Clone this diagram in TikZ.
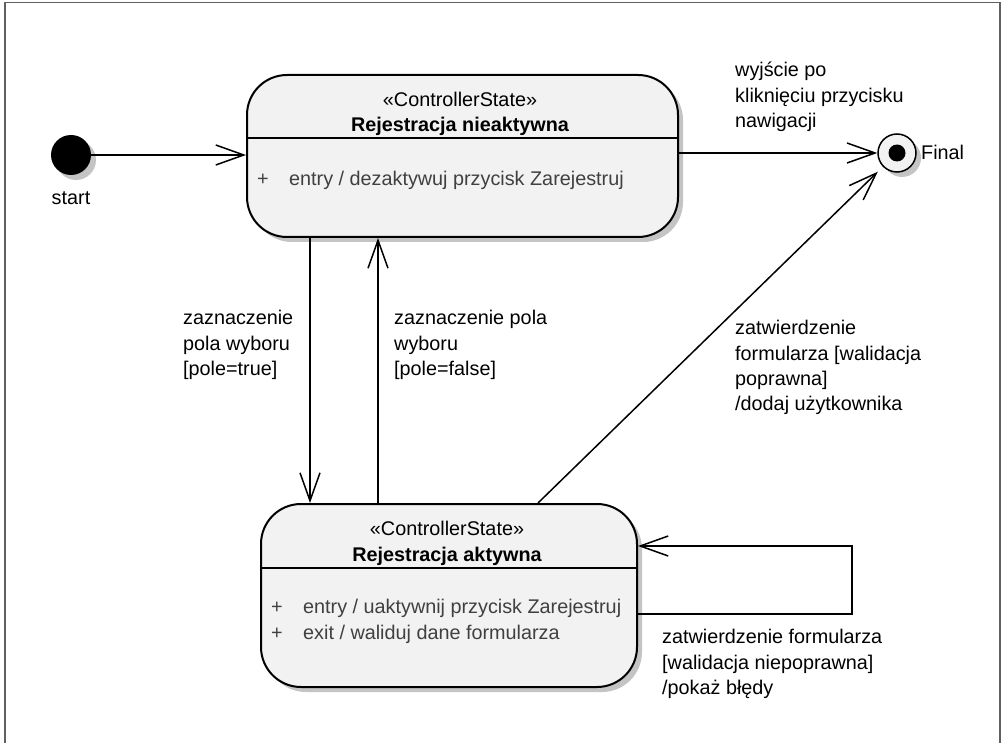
\documentclass[tikz,border=0pt]{standalone}
\usepackage{fontspec}
\setmainfont{Liberation Sans}
\usetikzlibrary{arrows.meta,shadows}
\definecolor{boxfill}{HTML}{F2F2F2}
\definecolor{shadowgray}{HTML}{C4C4C4}
\definecolor{entrygray}{HTML}{404040}
\definecolor{framegray}{HTML}{606060}
\begin{document}
\begin{tikzpicture}[x=1pt,y=-1pt,
  txt/.style={font=\fontsize{19.8}{25.3}\selectfont, inner sep=0pt},
  lbl/.style={txt, anchor=north west, align=left},
  entrytxt/.style={txt, anchor=base west, text=entrygray},
  shad/.style={drop shadow={shadow xshift=5pt,shadow yshift=-5pt,fill=shadowgray,opacity=1}},
  statebox/.style={rectangle, rounded corners=40pt, draw=black, line width=2pt, fill=boxfill, shad, inner sep=0pt},
  conn/.style={draw=black, line width=1.5pt, -{Straight Barb[length=28pt,width=20pt]}},
]
\useasboundingbox (0,0) rectangle (1006,743);
\fill[white] (0,0) rectangle (1006,743);
\draw[framegray, line width=1.2pt] (5,743) -- (5,2.5) -- (1000,2.5) -- (1000,743);

% states
\node[statebox, minimum width=431pt, minimum height=162pt] (top) at (462.5,156) {};
\node[statebox, minimum width=376pt, minimum height=183pt] (bot) at (449,595.5) {};
\coordinate (sepT) at (0,138);
\coordinate (sepB) at (0,568);
\draw[line width=2pt] (top.west |- sepT) -- (top.east |- sepT);
\draw[line width=2pt] (bot.west |- sepB) -- (bot.east |- sepB);

\node[txt, anchor=base] (topst) at (460,107) {«ControllerState»};
\node[txt, anchor=base, font=\fontsize{19.8}{25.3}\selectfont\bfseries] (topnm) at (460,132) {Rejestracja nieaktywna};
\node[entrytxt] (topen) at (257,186) {\makebox[32pt][l]{+}entry / dezaktywuj przycisk Zarejestruj};

\node[txt, anchor=base] (botst) at (447,535) {«ControllerState»};
\node[txt, anchor=base, font=\fontsize{19.8}{25.3}\selectfont\bfseries] (botnm) at (447,561) {Rejestracja aktywna};
\node[entrytxt] (boten1) at (271,613) {\makebox[32pt][l]{+}entry / uaktywnij przycisk Zarejestruj};
\node[entrytxt] (boten2) at (271,639) {\makebox[32pt][l]{+}exit / waliduj dane formularza};

% pseudo states
\node[circle, fill=black, minimum size=40pt, inner sep=0pt, shad] (start) at (71,155) {};
\node[txt, anchor=base] (startlbl) at (71,205) {start};
\node[circle, draw=black, line width=1.5pt, fill=boxfill, minimum size=38pt, inner sep=0pt, shad] (fin) at (897,153) {};
\node[circle, fill=black, minimum size=17pt, inner sep=0pt] (findot) at (fin) {};
\node[txt, anchor=base west] (finlbl) at (921,160) {Final};

% connectors
\coordinate (x310) at (310,0);
\coordinate (x378) at (378,0);
\coordinate (x538) at (538,0);
\coordinate (sl1) at (852,614);
\coordinate (sl2) at (852,546);
\draw[conn] (start) -- (top.west |- start);
\draw[conn] (top.east |- fin) -- (fin);
\draw[conn] (top.south -| x310) -- (bot.north -| x310);
\draw[conn] (bot.north -| x378) -- (top.south -| x378);
\draw[conn, shorten >=7pt] (bot.north -| x538) -- (fin);
\draw[conn] (bot.east |- sl1) -- (sl1) -- (sl2) -- (bot.east |- sl2);

% labels
\node[lbl] (l1) at (735,59) {\strut wyjście po\\kliknięciu przycisku\\nawigacji};
\node[lbl] (l2) at (183,307) {\strut zaznaczenie\\pola wyboru\\{}[pole=true]};
\node[lbl] (l3) at (394,307) {\strut zaznaczenie pola\\wyboru\\{}[pole=false]};
\node[lbl] (l4) at (735,317) {\strut zatwierdzenie\\formularza [walidacja\\poprawna]\\/dodaj użytkownika};
\node[lbl] (l5) at (662,626) {\strut zatwierdzenie formularza\\{}[walidacja niepoprawna]\\/pokaż błędy};
\end{tikzpicture}
\end{document}
